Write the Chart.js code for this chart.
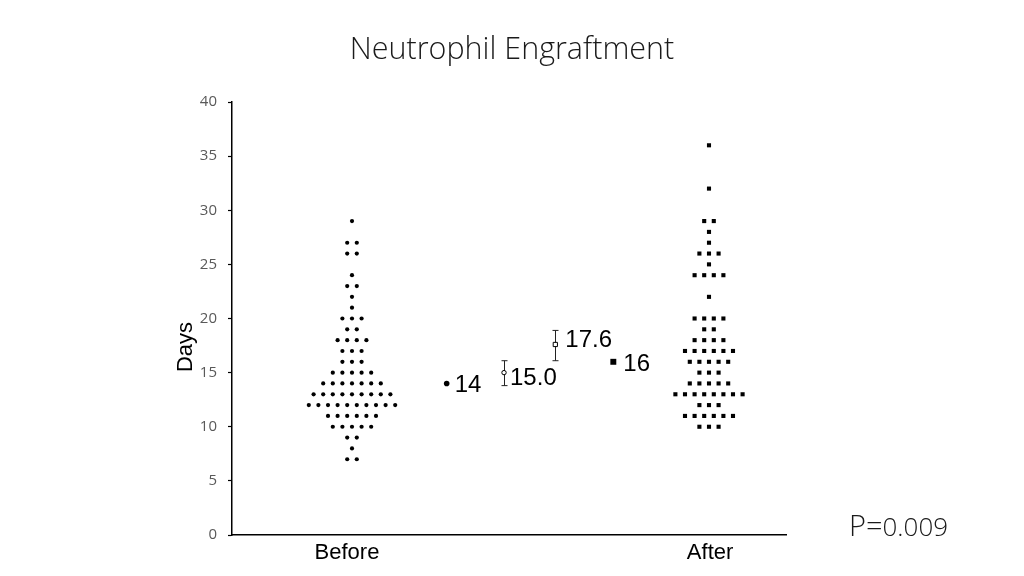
<!DOCTYPE html>
<html>
<head>
<meta charset="utf-8">
<script src="https://cdn.jsdelivr.net/npm/chart.js@4.4.1/dist/chart.umd.min.js"></script>
<style>
  html, body { margin: 0; padding: 0; background: #fff; }
  #wrap { width: 1024px; height: 576px; position: relative; }
</style>
</head>
<body>
<div id="wrap"><canvas id="c" width="1024" height="576"></canvas></div>
<script>
// ---------------- DATA ----------------
const categories = ['Before', 'After'];
const beforeDays = [29, 27, 27, 26, 26, 24, 23, 23, 22, 21, 20, 20, 20, 19, 19,
  18, 18, 18, 18, 17, 17, 17, 16, 16, 16, 15, 15, 15, 15, 15,
  14, 14, 14, 14, 14, 14, 14, 13, 13, 13, 13, 13, 13, 13, 13, 13,
  12, 12, 12, 12, 12, 12, 12, 12, 12, 12, 11, 11, 11, 11, 11, 11,
  10, 10, 10, 10, 10, 9, 9, 8, 7, 7];
const afterDays = [36, 32, 29, 29, 28, 27, 26, 26, 26, 25, 24, 24, 24, 24, 22,
  20, 20, 20, 20, 19, 19, 18, 18, 18, 18, 17, 17, 17, 17, 17, 17,
  16, 16, 16, 16, 16, 15, 15, 15, 14, 14, 14, 14, 14,
  13, 13, 13, 13, 13, 13, 13, 13, 12, 12, 12, 11, 11, 11, 11, 11, 11, 10, 10, 10];
const summaryLabels = ['14', '15.0', '17.6', '16'];
const summaryValues = [14, 15.0, 17.6, 16];
const summaryErrLow = [null, 13.8, 16.1, null];
const summaryErrHigh = [null, 16.1, 18.9, null];
const yTicks = [0, 5, 10, 15, 20, 25, 30, 35, 40];
const titleText = 'Neutrophil Engraftment';
const yTitle = 'Days';
const pLabel = 'P=';
const pValue = '0.009';

// ---------------- LAYOUT ----------------
const CAT_X = [21.66, 86.1];              // centres of the dot columns
const CAT_LABEL_X = [20.76, 86.3];        // positions of the category labels
const SUMMARY_X = [38.75, 49.1, 58.36, 68.83];
const DOT_SPACING = 1.733;
const LABEL_DX = [8, 6, 10, 10];
const LABEL_DY = [0, 4, -6, 1];

function swarm(values, center) {
  const counts = {};
  values.forEach(v => { counts[v] = (counts[v] || 0) + 1; });
  const seen = {};
  return values.map(v => {
    const i = seen[v] || 0; seen[v] = i + 1;
    const n = counts[v];
    return { x: center + (i - (n - 1) / 2) * DOT_SPACING, y: v };
  });
}

const annot = {
  id: 'annot',
  beforeDatasetsDraw(chart) {
    const { ctx, scales: { x, y } } = chart;
    ctx.save();
    ctx.strokeStyle = '#222';
    ctx.lineWidth = 1;
    summaryValues.forEach((v, i) => {
      if (summaryErrLow[i] == null) return;
      const px = Math.round(x.getPixelForValue(SUMMARY_X[i])) + 0.5;
      const y1 = y.getPixelForValue(summaryErrLow[i]);
      const y2 = y.getPixelForValue(summaryErrHigh[i]);
      ctx.beginPath();
      ctx.moveTo(px, y1); ctx.lineTo(px, y2);
      ctx.moveTo(px - 3, y1); ctx.lineTo(px + 3, y1);
      ctx.moveTo(px - 3, y2); ctx.lineTo(px + 3, y2);
      ctx.stroke();
    });
    ctx.restore();
  },
  afterDatasetsDraw(chart) {
    const { ctx, scales: { x, y } } = chart;
    ctx.save();
    ctx.fillStyle = '#000';
    ctx.font = '24px "Liberation Sans", Arial, sans-serif';
    ctx.textAlign = 'left';
    ctx.textBaseline = 'alphabetic';
    summaryLabels.forEach((t, i) => {
      const px = x.getPixelForValue(SUMMARY_X[i]) + LABEL_DX[i];
      const py = y.getPixelForValue(summaryValues[i]) + LABEL_DY[i] + 8.6;
      ctx.fillText(t, px, py);
    });
    ctx.restore();
  },
  afterDraw(chart) {
    const { ctx } = chart;
    ctx.save();
    // title
    ctx.fillStyle = '#1a1a1a';
    ctx.font = '300 30.5px "Open Sans", sans-serif';
    ctx.textAlign = 'center';
    ctx.textBaseline = 'middle';
    ctx.fillText(titleText, 512, 50);
    // y title
    ctx.save();
    ctx.translate(186, 347);
    ctx.rotate(-Math.PI / 2);
    ctx.fillStyle = '#000';
    ctx.font = '22px "Liberation Sans", Arial, sans-serif';
    ctx.fillText(yTitle, 0, 0);
    ctx.restore();
    // p value
    ctx.fillStyle = '#1a1a1a';
    ctx.textAlign = 'left';
    ctx.textBaseline = 'alphabetic';
    ctx.font = '300 29px "Open Sans", sans-serif';
    ctx.fillText(pLabel, 849, 536);
    const w = ctx.measureText(pLabel).width;
    ctx.font = '300 26px "Open Sans", sans-serif';
    ctx.fillText(pValue, 849 + w, 536);
    ctx.restore();
  }
};

new Chart(document.getElementById('c'), {
  type: 'scatter',
  data: {
    datasets: [
      {
        label: categories[0],
        data: swarm(beforeDays, CAT_X[0]),
        pointStyle: 'circle', pointRadius: 2.1,
        backgroundColor: '#000', borderWidth: 0
      },
      {
        label: categories[1],
        data: swarm(afterDays, CAT_X[1]),
        pointStyle: 'rect', pointRadius: 2.9,
        backgroundColor: '#000', borderWidth: 0
      },
      {
        label: 'summary',
        data: summaryValues.map((v, i) => ({ x: SUMMARY_X[i], y: v })),
        pointStyle: ['circle', 'circle', 'rect', 'rect'],
        pointRadius: [2.8, 2.2, 3.0, 4.2],
        backgroundColor: ['#000', '#fff', '#fff', '#000'],
        borderColor: '#000',
        borderWidth: [0, 1, 1, 0]
      }
    ]
  },
  options: {
    responsive: false,
    animation: false,
    devicePixelRatio: 1,
    layout: { padding: { top: 102, right: 238, left: 0, bottom: 0 } },
    plugins: { legend: { display: false }, tooltip: { enabled: false }, title: { display: false } },
    scales: {
      x: {
        type: 'linear', min: 0, max: 100,
        afterFit(s) { s.height = 41; },
        afterBuildTicks(s) { s.ticks = CAT_LABEL_X.map(v => ({ value: v })); },
        ticks: {
          callback: (v, i) => categories[i],
          autoSkip: false, maxRotation: 0, padding: 5,
          color: '#000',
          font: { family: '"Liberation Sans", Arial, sans-serif', size: 22 }
        },
        grid: { drawOnChartArea: false, drawTicks: false },
        border: { display: true, color: '#000', width: 1.5 }
      },
      y: {
        type: 'linear', min: 0, max: 40,
        afterFit(s) { s.width = 232; },
        afterBuildTicks(s) { s.ticks = yTicks.map(v => ({ value: v })); },
        ticks: {
          padding: 11, color: '#595959',
          font: { family: '"Open Sans", sans-serif', size: 15 }
        },
        grid: { drawOnChartArea: false, drawTicks: true, tickLength: 4, color: '#000', tickWidth: 1.2 },
        border: { display: true, color: '#000', width: 1.5 }
      }
    }
  },
  plugins: [annot]
});
</script>
</body>
</html>
